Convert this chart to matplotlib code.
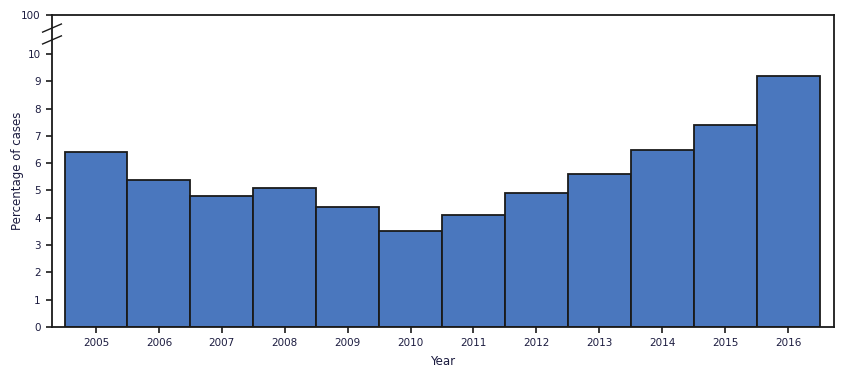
import numpy as np
import matplotlib
matplotlib.use('Agg')
import matplotlib.pyplot as plt

## data
years = [2005, 2006, 2007, 2008, 2009, 2010, 2011, 2012, 2013, 2014, 2015, 2016]
pct_cases = [6.4, 5.4, 4.8, 5.1, 4.4, 3.5, 4.1, 4.9, 5.6, 6.5, 7.4, 9.2]
y_ticks = [0, 1, 2, 3, 4, 5, 6, 7, 8, 9, 10, 100]

# broken axis: 0-10 linear, 10-100 squeezed into a short strip
squeeze = 1.43 / 90.0

def fwd(y):
    y = np.asarray(y, dtype=float)
    return np.where(y <= 10, y, 10 + (y - 10) * squeeze)

def inv(y):
    y = np.asarray(y, dtype=float)
    return np.where(y <= 10, y, 10 + (y - 10) / squeeze)

plt.rcParams['font.family'] = 'DejaVu Sans'

fig = plt.figure(figsize=(8.51, 3.74), dpi=100)
ax = fig.add_axes([0.0611, 0.1257, 0.9189, 0.8343])

ax.bar(years, pct_cases, width=1.0, color='#4a77be', edgecolor='#1a1a1a', linewidth=1.3)

ax.set_yscale('function', functions=(fwd, inv))
ax.set_ylim(0, 100)
ax.set_yticks(y_ticks)
ax.set_yticklabels([str(t) for t in y_ticks])
ax.set_xlim(2005 - 0.70, 2016 + 0.73)
ax.set_xticks(years)
ax.set_xticklabels([str(y) for y in years])

ax.tick_params(axis='both', direction='out', length=4.5, width=1.2, labelsize=7.5,
               colors='#1a1a1a', labelcolor='#1c1c40', pad=3.5)
for s in ax.spines.values():
    s.set_linewidth(1.3)
    s.set_color('#1a1a1a')

ax.set_xlabel('Year', fontsize=8.5, labelpad=5, color='#1c1c40')
ax.set_ylabel('Percentage of cases', fontsize=8.5, labelpad=-2, color='#1c1c40')

# break marks on the left spine
dx, dy = 0.012, 0.013
for yb in [0.958, 0.920]:
    ax.plot([-dx, dx], [yb - dy, yb + dy], transform=ax.transAxes,
            color='#1a1a1a', linewidth=1.0, clip_on=False)

fig.savefig('out.png', dpi=100)
